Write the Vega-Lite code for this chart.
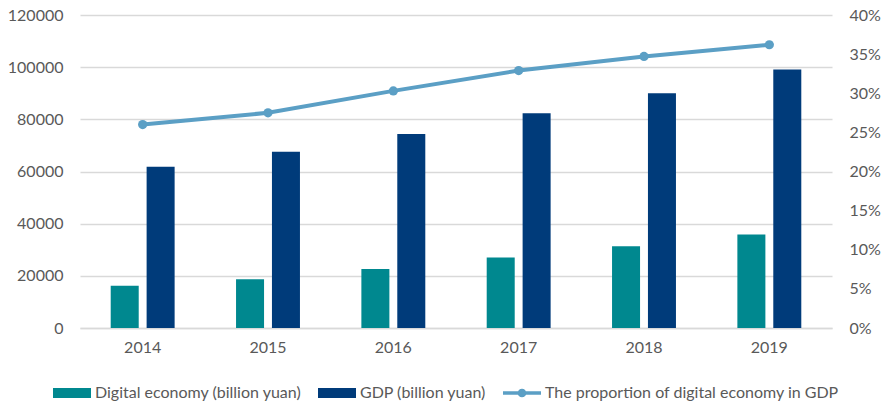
{
  "$schema": "https://vega.github.io/schema/vega-lite/v6.json",
  "width": 752,
  "height": 313,
  "autosize": {"type": "none"},
  "padding": {"left": 80, "top": 15, "right": 49, "bottom": 75},
  "background": "white",
  "config": {
    "view": {"stroke": null},
    "font": "Lato",
    "axis": {"labelFont": "Lato", "labelFontSize": 16, "labelColor": "#595959", "ticks": false, "domain": false, "title": null},
    "legend": {"labelFont": "Lato", "labelFontSize": 16, "labelColor": "#595959", "labelLimit": 500}
  },
  "datasets": {
    "bars": [
      {"year": "2014", "series": "Digital economy (billion yuan)", "value": 16200},
      {"year": "2014", "series": "GDP (billion yuan)", "value": 61800},
      {"year": "2015", "series": "Digital economy (billion yuan)", "value": 18700},
      {"year": "2015", "series": "GDP (billion yuan)", "value": 67600},
      {"year": "2016", "series": "Digital economy (billion yuan)", "value": 22600},
      {"year": "2016", "series": "GDP (billion yuan)", "value": 74400},
      {"year": "2017", "series": "Digital economy (billion yuan)", "value": 27000},
      {"year": "2017", "series": "GDP (billion yuan)", "value": 82300},
      {"year": "2018", "series": "Digital economy (billion yuan)", "value": 31300},
      {"year": "2018", "series": "GDP (billion yuan)", "value": 90000},
      {"year": "2019", "series": "Digital economy (billion yuan)", "value": 35800},
      {"year": "2019", "series": "GDP (billion yuan)", "value": 99100}
    ],
    "share": [
      {"year": "2014", "series": "The proportion of digital economy in GDP", "share": 0.260},
      {"year": "2015", "series": "The proportion of digital economy in GDP", "share": 0.275},
      {"year": "2016", "series": "The proportion of digital economy in GDP", "share": 0.303},
      {"year": "2017", "series": "The proportion of digital economy in GDP", "share": 0.329},
      {"year": "2018", "series": "The proportion of digital economy in GDP", "share": 0.347},
      {"year": "2019", "series": "The proportion of digital economy in GDP", "share": 0.362}
    ]
  },
  "encoding": {
    "x": {
      "field": "year", "type": "nominal",
      "scale": {"paddingInner": 0.49, "paddingOuter": 0.245},
      "axis": {"labelAngle": 0, "labelPadding": 11, "domain": true, "domainColor": "#d9d9d9", "domainWidth": 1.5, "grid": false}
    }
  },
  "layer": [
    {
      "data": {"name": "bars"},
      "mark": {"type": "bar"},
      "encoding": {
        "xOffset": {"field": "series", "type": "nominal", "scale": {"paddingInner": 0.22, "paddingOuter": 0}},
        "y": {
          "field": "value", "type": "quantitative",
          "scale": {"domain": [0, 120000], "nice": false},
          "axis": {"orient": "left", "values": [0, 20000, 40000, 60000, 80000, 100000, 120000], "format": "d", "labelPadding": 17, "grid": true, "gridColor": "#d9d9d9", "gridWidth": 1.3}
        },
        "color": {
          "field": "series", "type": "nominal",
          "scale": {
            "domain": ["Digital economy (billion yuan)", "GDP (billion yuan)", "The proportion of digital economy in GDP"],
            "range": ["#00888F", "#003B7A", "#5B9FC5"]
          },
          "legend": {
            "title": null,
            "orient": "none",
            "direction": "horizontal",
            "legendX": -27,
            "legendY": 359,
            "symbolSize": 1444,
            "labelOffset": 4,
            "columnPadding": 16,
            "encode": {
              "symbols": {
                "update": {
                  "shape": {"signal": "datum.value === 'The proportion of digital economy in GDP' ? 'M-1,-0.09H1V0.09H-1Z M0.23,0A0.23,0.23,0,1,1,-0.23,0A0.23,0.23,0,1,1,0.23,0Z' : 'M-1,-0.26H1V0.26H-1Z'"},
                  "size": {"value": 1444},
                  "fill": {"signal": "scale('color', datum.value)"},
                  "strokeWidth": {"value": 0},
                  "opacity": {"value": 1},
                  "fillOpacity": {"value": 1}
                }
              }
            }
          }
        }
      }
    },
    {
      "data": {"name": "share"},
      "mark": {"type": "line", "strokeWidth": 4, "strokeCap": "round", "point": {"filled": true, "size": 85, "opacity": 1}},
      "encoding": {
        "y": {
          "field": "share", "type": "quantitative",
          "scale": {"domain": [0, 0.4], "nice": false},
          "axis": {"orient": "right", "values": [0, 0.05, 0.1, 0.15, 0.2, 0.25, 0.3, 0.35, 0.4], "format": ".0%", "labelPadding": 17, "grid": false}
        },
        "color": {"field": "series", "type": "nominal"}
      }
    }
  ],
  "resolve": {"scale": {"y": "independent"}}
}
